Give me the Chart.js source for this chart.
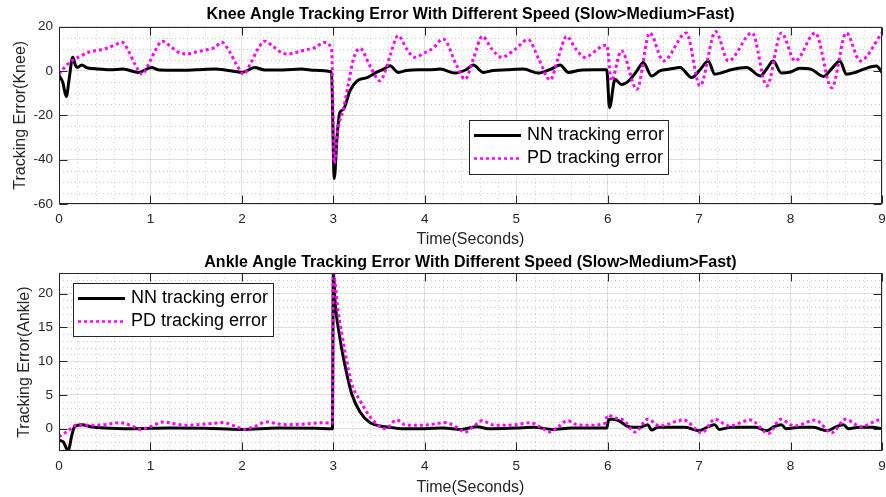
<!DOCTYPE html>
<html>
<head>
<meta charset="utf-8">
<script src="https://cdn.jsdelivr.net/npm/chart.js@4/dist/chart.umd.min.js"></script>
<style>
html, body { margin: 0; padding: 0; background: #fff; }
#wrap { position: relative; width: 886px; height: 497px; }
canvas { position: absolute; left: 0; }
</style>
</head>
<body>
<div id="wrap">
  <canvas id="knee" width="886" height="248" style="top:0"></canvas>
  <canvas id="ankle" width="886" height="249" style="top:248px"></canvas>
</div>
<script>
// ---- Knee joint tracking error (degrees) ----
const kneeNNTime = [0, 0.04, 0.08, 0.11, 0.15, 0.18, 0.20, 0.25, 0.30, 0.40, 0.55, 0.70, 0.87, 1.01, 1.10, 1.30, 1.50, 1.70, 1.85, 2.00, 2.14, 2.25, 2.45, 2.65, 2.80, 2.98,
  3.01, 3.04, 3.07, 3.11, 3.18, 3.26, 3.37, 3.47, 3.55, 3.62, 3.71, 3.80, 3.95, 4.05, 4.17, 4.33, 4.45, 4.53, 4.64, 4.75, 4.90, 5.08, 5.24, 5.38, 5.48, 5.57, 5.70, 5.85, 5.99,
  6.02, 6.08, 6.15, 6.23, 6.32, 6.39, 6.48, 6.57, 6.68, 6.79, 6.92, 7.01, 7.10, 7.17, 7.25, 7.35, 7.52, 7.67, 7.74, 7.81, 7.90, 8.00, 8.10, 8.22, 8.36, 8.45, 8.54, 8.61, 8.70, 8.80, 8.94, 9.00];
const kneeNN = [-2, -5, -11.6, -4, 6.1, 2.5, 1.5, 2.7, 1.5, 1.0, 0.5, 0.8, -0.7, 1.5, 0.4, 0.3, 0.5, 0.8, 0.2, -0.7, 1.5, 0.4, 0.4, 0.8, 0.3, -0.5,
  -48.5, -30, -18.9, -17.4, -9.1, -4.5, -3.0, -0.7, 0.8, 2.3, -0.7, 0.2, 0.5, 0.5, 0.8, -1.0, 0.5, 2.6, -0.7, 0.2, 0.5, 0.8, -1.0, 0.8, 2.6, -0.7, 0.3, 0.5, 0.5,
  -16.6, -3.8, -6.1, -4.5, 0, 3.8, -2.3, 0, 0.8, 1.5, -3.0, 0.5, 4.5, -1.5, -0.8, 0.5, 1.5, -2.3, 1.0, 4.5, -1.0, -0.5, 1.2, 0.8, -2.5, 1.0, 4.5, -1.5, -0.8, 0.8, 2.2, -0.7];

const kneePDTime = [0, 0.07, 0.14, 0.23, 0.32, 0.41, 0.50, 0.60, 0.69, 0.76, 0.83, 0.91, 0.98, 1.05, 1.13, 1.22, 1.31, 1.40, 1.50, 1.60, 1.70, 1.78, 1.86, 1.94, 2.02, 2.09, 2.17, 2.25, 2.34, 2.43, 2.51, 2.61, 2.70, 2.80, 2.90, 2.98,
  3.01, 3.05, 3.11, 3.16, 3.22, 3.29, 3.40, 3.51, 3.56, 3.62, 3.71, 3.80, 3.89, 3.99, 4.09, 4.20, 4.35, 4.44, 4.53, 4.63, 4.73, 4.84, 4.98, 5.13, 5.25, 5.37, 5.46, 5.55, 5.65, 5.75, 5.86, 5.95, 5.99,
  6.04, 6.15, 6.32, 6.46, 6.61, 6.86, 7.01, 7.18, 7.32, 7.58, 7.74, 7.90, 8.05, 8.27, 8.45, 8.61, 8.76, 9.00];
const kneePD = [-1.5, 2, 4.5, 6.5, 8.4, 9.2, 9.9, 11.5, 12.9, 9, 3, -1.5, 3, 9, 13.4, 11, 8.3, 7.6, 8.5, 9.4, 10.5, 12.9, 9, 3, -1.5, 3, 9.5, 13.4, 11, 8.3, 7.6, 8.5, 9.5, 10.5, 12.8, 9.9,
  -41.6, -26.5, -17.4, -6.8, 5.3, 10.2, 2.3, -4.5, -1, 6.8, 15.9, 10, 6.1, 8, 10.2, 14.4, 2.3, -3.8, 5.3, 15.6, 10, 6.1, 9.5, 14.1, 5, -4.1, 6, 15.6, 10, 6.1, 8.8, 11.4, 11.6,
  -4.5, 9.1, -8.3, 17.1, 4.5, 17.1, -6.8, 17.7, 4.5, 17.1, -6.8, 17.1, 4.5, 17.1, -7.6, 17.1, 4.5, 17.1];

// ---- Ankle joint tracking error (degrees) ----
const ankleNNTime = [0, 0.05, 0.10, 0.14, 0.17, 0.25, 0.35, 0.50, 0.80, 1.20, 1.60, 2.00, 2.40, 2.80, 2.99,
  3.00, 3.02, 3.07, 3.13, 3.20, 3.29, 3.40, 3.51, 3.62, 3.75, 4.00, 4.20, 4.40, 4.57, 4.70, 5.00, 5.20, 5.40, 5.60, 5.99,
  6.01, 6.05, 6.12, 6.23, 6.35, 6.44, 6.48, 6.55, 6.70, 6.85, 7.00, 7.10, 7.17, 7.22, 7.35, 7.50, 7.62, 7.74, 7.82, 7.90, 7.95, 8.10, 8.25, 8.40, 8.50, 8.58, 8.63, 8.75, 8.90, 9.00];
const ankleNN = [-1.7, -2.0, -3.3, -1, 0.3, 0.6, 0.3, 0.1, 0.0, 0.1, 0.05, -0.1, 0.1, 0.05, 0.0,
  23, 18.6, 13.6, 9.2, 5.2, 2.5, 0.9, 0.4, 0.2, 0.0, 0.0, 0.1, -0.1, 0.3, 0.0, 0.1, 0.2, -0.1, 0.1, 0.1,
  1.3, 1.4, 1.2, 0.3, 0.2, 0.6, -0.2, 0.2, 0.2, 0.2, -0.3, 0.3, 0.6, -0.1, 0.2, 0.2, 0.2, -0.3, 0.3, 0.6, 0.0, 0.2, 0.2, -0.3, 0.3, 0.6, 0.0, 0.2, 0.2, 0.0];

const anklePDTime = [0, 0.08, 0.19, 0.35, 0.50, 0.67, 0.78, 0.89, 1.00, 1.14, 1.27, 1.40, 1.60, 1.80, 1.92, 2.03, 2.15, 2.27, 2.40, 2.50, 2.70, 2.89, 2.99,
  3.00, 3.05, 3.13, 3.20, 3.29, 3.40, 3.51, 3.57, 3.69, 3.80, 3.91, 4.05, 4.22, 4.35, 4.44, 4.53, 4.63, 4.73, 4.84, 5.00, 5.15, 5.27, 5.37, 5.46, 5.56, 5.66, 5.76, 5.97,
  6.00, 6.10, 6.17, 6.30, 6.44, 6.57, 6.83, 7.03, 7.17, 7.33, 7.56, 7.76, 7.89, 8.04, 8.27, 8.45, 8.60, 8.77, 8.98, 9.00];
const anklePD = [-1.2, -0.5, 0.5, 0.5, 0.6, 0.9, 0.5, -0.1, 0.3, 1.0, 0.7, 0.5, 0.7, 0.9, 0.4, -0.1, 0.4, 1.0, 0.7, 0.6, 0.7, 0.9, 0.8,
  23, 17.6, 11.2, 6.7, 4.2, 1.8, 0.3, 0.0, 1.3, 0.5, 0.5, 0.6, 0.9, 0.2, -0.5, 0.3, 1.2, 0.6, 0.5, 0.6, 0.9, 0.2, -0.5, 0.3, 1.2, 0.6, 0.5, 0.8,
  2.0, 1.5, 1.3, -0.5, 1.4, 0.4, 1.3, -0.6, 1.4, 0.4, 1.3, -0.7, 1.4, 0.4, 1.3, -0.6, 1.4, 0.3, 1.3, 1.3];

const seriesLabels = ['NN tracking error', 'PD tracking error'];
const xTicks = [0, 1, 2, 3, 4, 5, 6, 7, 8, 9];
const kneeYTicks = [-60, -40, -20, 0, 20];
const ankleYTicks = [0, 5, 10, 15, 20];

const FONT = "'Liberation Sans', Arial, Helvetica, sans-serif";
const AXIS = '#262626';

const pts = (t, v) => t.map((x, i) => ({ x, y: v[i] }));

// Bold title centred over the plot area
const axesTitle = {
  id: 'axesTitle',
  afterDraw(chart, args, o) {
    const { ctx, chartArea: a } = chart;
    ctx.save();
    ctx.fillStyle = '#000';
    ctx.font = `bold ${o.size}px ${FONT}`;
    ctx.textAlign = 'center';
    ctx.textBaseline = 'middle';
    ctx.fillText(o.text, (a.left + a.right) / 2, o.y);
    ctx.restore();
  }
};

// Box, inward tick marks and dotted minor grid in the style of a MATLAB axes
const matlabAxes = {
  id: 'matlabAxes',
  beforeDatasetsDraw(chart, args, o) {
    const { ctx, chartArea: a, scales: { x, y } } = chart;
    ctx.save();
    ctx.beginPath(); ctx.rect(a.left, a.top, a.width, a.height); ctx.clip();
    ctx.strokeStyle = o.minorColor; ctx.lineWidth = 1; ctx.setLineDash([1, 3]);
    const isMajor = (v, ticks) => ticks.some(t => Math.abs(t - v) < 1e-6);
    const n = Math.round((x.max - x.min) / o.xMinor);
    for (let i = 0; i <= n; i++) {
      const v = x.min + i * o.xMinor;
      if (isMajor(v, o.xMajor)) continue;
      const px = Math.round(x.getPixelForValue(v)) + 0.5;
      ctx.beginPath(); ctx.moveTo(px, a.top); ctx.lineTo(px, a.bottom); ctx.stroke();
    }
    for (let v = Math.ceil(y.min / o.yMinor) * o.yMinor; v <= y.max + 1e-9; v += o.yMinor) {
      if (isMajor(v, o.yMajor)) continue;
      const py = Math.round(y.getPixelForValue(v)) + 0.5;
      ctx.beginPath(); ctx.moveTo(a.left, py); ctx.lineTo(a.right, py); ctx.stroke();
    }
    ctx.restore();
  },
  afterDatasetsDraw(chart, args, o) {
    const { ctx, chartArea: a, scales: { x, y } } = chart;
    ctx.save();
    ctx.strokeStyle = AXIS; ctx.lineWidth = 1; ctx.setLineDash([]);
    const L = Math.round(a.left) + 0.5, R = Math.round(a.right) - 0.5;
    const T = Math.round(a.top) + 0.5, B = Math.round(a.bottom) - 0.5;
    ctx.strokeRect(L, T, R - L, B - T);
    const tl = 8;
    ctx.beginPath();
    o.xMajor.forEach(v => {
      const px = Math.round(x.getPixelForValue(v)) + 0.5;
      ctx.moveTo(px, B); ctx.lineTo(px, B - tl);
      ctx.moveTo(px, T); ctx.lineTo(px, T + tl);
    });
    o.yMajor.forEach(v => {
      const py = Math.round(y.getPixelForValue(v)) + 0.5;
      ctx.moveTo(L, py); ctx.lineTo(L + tl, py);
      ctx.moveTo(R, py); ctx.lineTo(R - tl, py);
    });
    ctx.stroke();
    ctx.restore();
  }
};

// Boxed legend placed inside the axes
const boxLegend = {
  id: 'boxLegend',
  afterDraw(chart, args, o) {
    const { ctx } = chart;
    ctx.save();
    ctx.fillStyle = '#fff';
    ctx.fillRect(o.left, o.top, o.width, o.height);
    ctx.strokeStyle = AXIS; ctx.lineWidth = 1;
    ctx.strokeRect(Math.round(o.left) + 0.5, Math.round(o.top) + 0.5, o.width, o.height);
    const entries = chart.data.datasets.slice().sort((p, q) => p.legendIndex - q.legendIndex);
    entries.forEach((ds, i) => {
      const cy = Math.round(o.top + o.rowY[i]) + 0.5;
      ctx.beginPath();
      ctx.strokeStyle = ds.borderColor;
      ctx.lineWidth = ds.legendLineWidth;
      ctx.setLineDash(ds.borderDash || []);
      ctx.moveTo(o.left + 5, cy); ctx.lineTo(o.left + 52, cy);
      ctx.stroke();
      ctx.setLineDash([]);
      ctx.fillStyle = '#000';
      ctx.font = `${o.fontSize}px ${FONT}`;
      ctx.textBaseline = 'middle';
      ctx.fillText(ds.label, o.left + 58, cy);
    });
    ctx.restore();
  }
};

function makeChart(id, cfg) {
  return new Chart(document.getElementById(id), {
    type: 'line',
    data: {
      datasets: [
        { label: seriesLabels[0], data: pts(cfg.nnT, cfg.nn), borderColor: '#000', borderWidth: 3, legendLineWidth: 3,
          order: 1, legendIndex: 0, cubicInterpolationMode: 'monotone' },
        { label: seriesLabels[1], data: pts(cfg.pdT, cfg.pd), borderColor: '#ff00ff', borderWidth: 3, legendLineWidth: 2.5,
          borderDash: [3, 3], borderCapStyle: 'butt', order: 0, legendIndex: 1, cubicInterpolationMode: 'monotone' }
      ]
    },
    options: {
      responsive: false,
      animation: false,
      devicePixelRatio: 1,
      events: [],
      elements: { point: { radius: 0 }, line: { fill: false } },
      layout: { padding: { left: 0, right: 4, top: cfg.plotTop, bottom: 0 } },
      plugins: {
        legend: { display: false },
        tooltip: { enabled: false },
        title: { display: false },
        axesTitle: { text: cfg.title, size: 16, y: cfg.titleY },
        matlabAxes: { xMajor: xTicks, yMajor: cfg.yTicks, xMinor: 0.2, yMinor: cfg.yMinor, minorColor: 'rgba(38,38,38,0.25)' },
        boxLegend: cfg.legend
      },
      scales: {
        x: {
          type: 'linear', min: 0, max: 9,
          afterBuildTicks: s => { s.ticks = xTicks.map(v => ({ value: v })); },
          afterFit: s => { s.height = cfg.xAxisHeight; s.paddingLeft = 0; s.paddingRight = 0; },
          ticks: { color: AXIS, font: { family: FONT, size: 13.5 }, padding: 7, maxRotation: 0, autoSkip: false },
          grid: { color: 'rgba(38,38,38,0.15)', drawTicks: false },
          border: { display: false },
          title: { display: true, text: 'Time(Seconds)', color: AXIS, font: { family: FONT, size: 16, lineHeight: 1 },
                   padding: { top: 0, bottom: cfg.xTitlePad } }
        },
        y: {
          type: 'linear', min: cfg.yMin, max: cfg.yMax,
          afterBuildTicks: s => { s.ticks = cfg.yTicks.map(v => ({ value: v })); },
          afterFit: s => { s.width = 59; s.paddingTop = 0; s.paddingBottom = 0; },
          ticks: { color: AXIS, font: { family: FONT, size: 13.5 }, padding: 6 },
          grid: { color: 'rgba(38,38,38,0.15)', drawTicks: false },
          border: { display: false },
          title: { display: true, text: cfg.yTitle, color: AXIS, font: { family: FONT, size: 16, lineHeight: 1 },
                   padding: { top: cfg.yTitlePad, bottom: 0 } }
        }
      }
    },
    plugins: [matlabAxes, boxLegend, axesTitle]
  });
}

makeChart('knee', {
  title: 'Knee Angle Tracking Error With Different Speed (Slow>Medium>Fast)',
  titleY: 14.5, plotTop: 26.5,
  nnT: kneeNNTime, nn: kneeNN, pdT: kneePDTime, pd: kneePD,
  yMin: -60, yMax: 20, yTicks: kneeYTicks, yMinor: 5,
  yTitle: 'Tracking Error(Knee)', yTitlePad: 12.8,
  xAxisHeight: 44, xTitlePad: 0,
  legend: { left: 469, top: 120, width: 199, height: 54, rowY: [15, 38], fontSize: 18 }
});

makeChart('ankle', {
  title: 'Ankle Angle Tracking Error With Different Speed (Slow>Medium>Fast)',
  titleY: 15, plotTop: 25.3,
  nnT: ankleNNTime, nn: ankleNN, pdT: anklePDTime, pd: anklePD,
  yMin: -3.3, yMax: 23, yTicks: ankleYTicks, yMinor: 1,
  yTitle: 'Tracking Error(Ankle)', yTitlePad: 16.2,
  xAxisHeight: 46, xTitlePad: 1,
  legend: { left: 73, top: 35, width: 200, height: 53, rowY: [15, 38], fontSize: 18 }
});
</script>
</body>
</html>
